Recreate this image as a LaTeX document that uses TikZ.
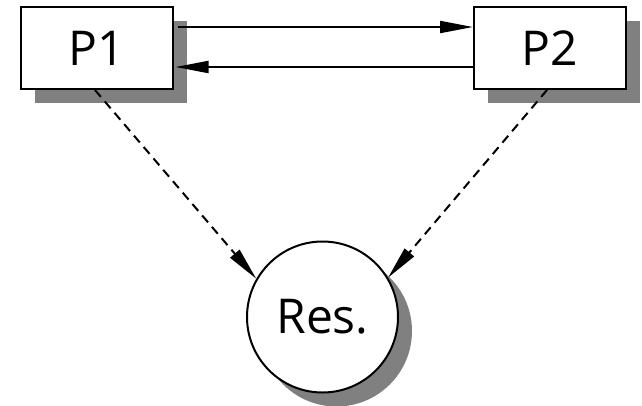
\documentclass[tikz,border=0pt]{standalone}
\usepackage{fontspec}
\setmainfont{Open Sans}
\usetikzlibrary{arrows.meta,shadows}
\definecolor{shadowgray}{HTML}{808080}
\begin{document}
\begin{tikzpicture}[x=1pt,y=-1pt,
  shadowed/.style={draw=black, line width=2pt, fill=white,
    drop shadow={shadow xshift=14pt, shadow yshift=-14pt, fill=shadowgray, opacity=1}},
  procbox/.style={shadowed, rectangle, minimum width=152pt, minimum height=82pt, inner sep=0pt,
    font=\fontsize{48}{52}\selectfont},
  resnode/.style={shadowed, circle, minimum size=151pt, inner sep=0pt,
    font=\fontsize{48}{52}\selectfont},
  msg/.style={line width=2pt, -{Triangle[length=33pt,width=12pt]}},
  use/.style={line width=2pt, dash pattern=on 9pt off 6pt, -{Triangle[length=33pt,width=12pt]}}]
  \useasboundingbox (0,0) rectangle (642,405);
  \node[procbox] (P1) at (96.5,48) {P1};
  \node[procbox] (P2) at (550,48) {P2};
  \node[resnode] (Res) at (322.5,317) {Res.};
  % messages between the two processes
  \draw[msg] ([xshift=4pt,yshift=21pt]P1.east) -- ([yshift=21pt]P2.west);
  \draw[msg] ([yshift=-19pt]P2.west) -- ([xshift=2pt,yshift=-19pt]P1.east);
  % both processes use the shared resource
  \draw[use] ([xshift=-1.5pt]P1.south) -- (Res.150);
  \draw[use] ([xshift=-3pt]P2.south) -- (Res.31);
\end{tikzpicture}
\end{document}
